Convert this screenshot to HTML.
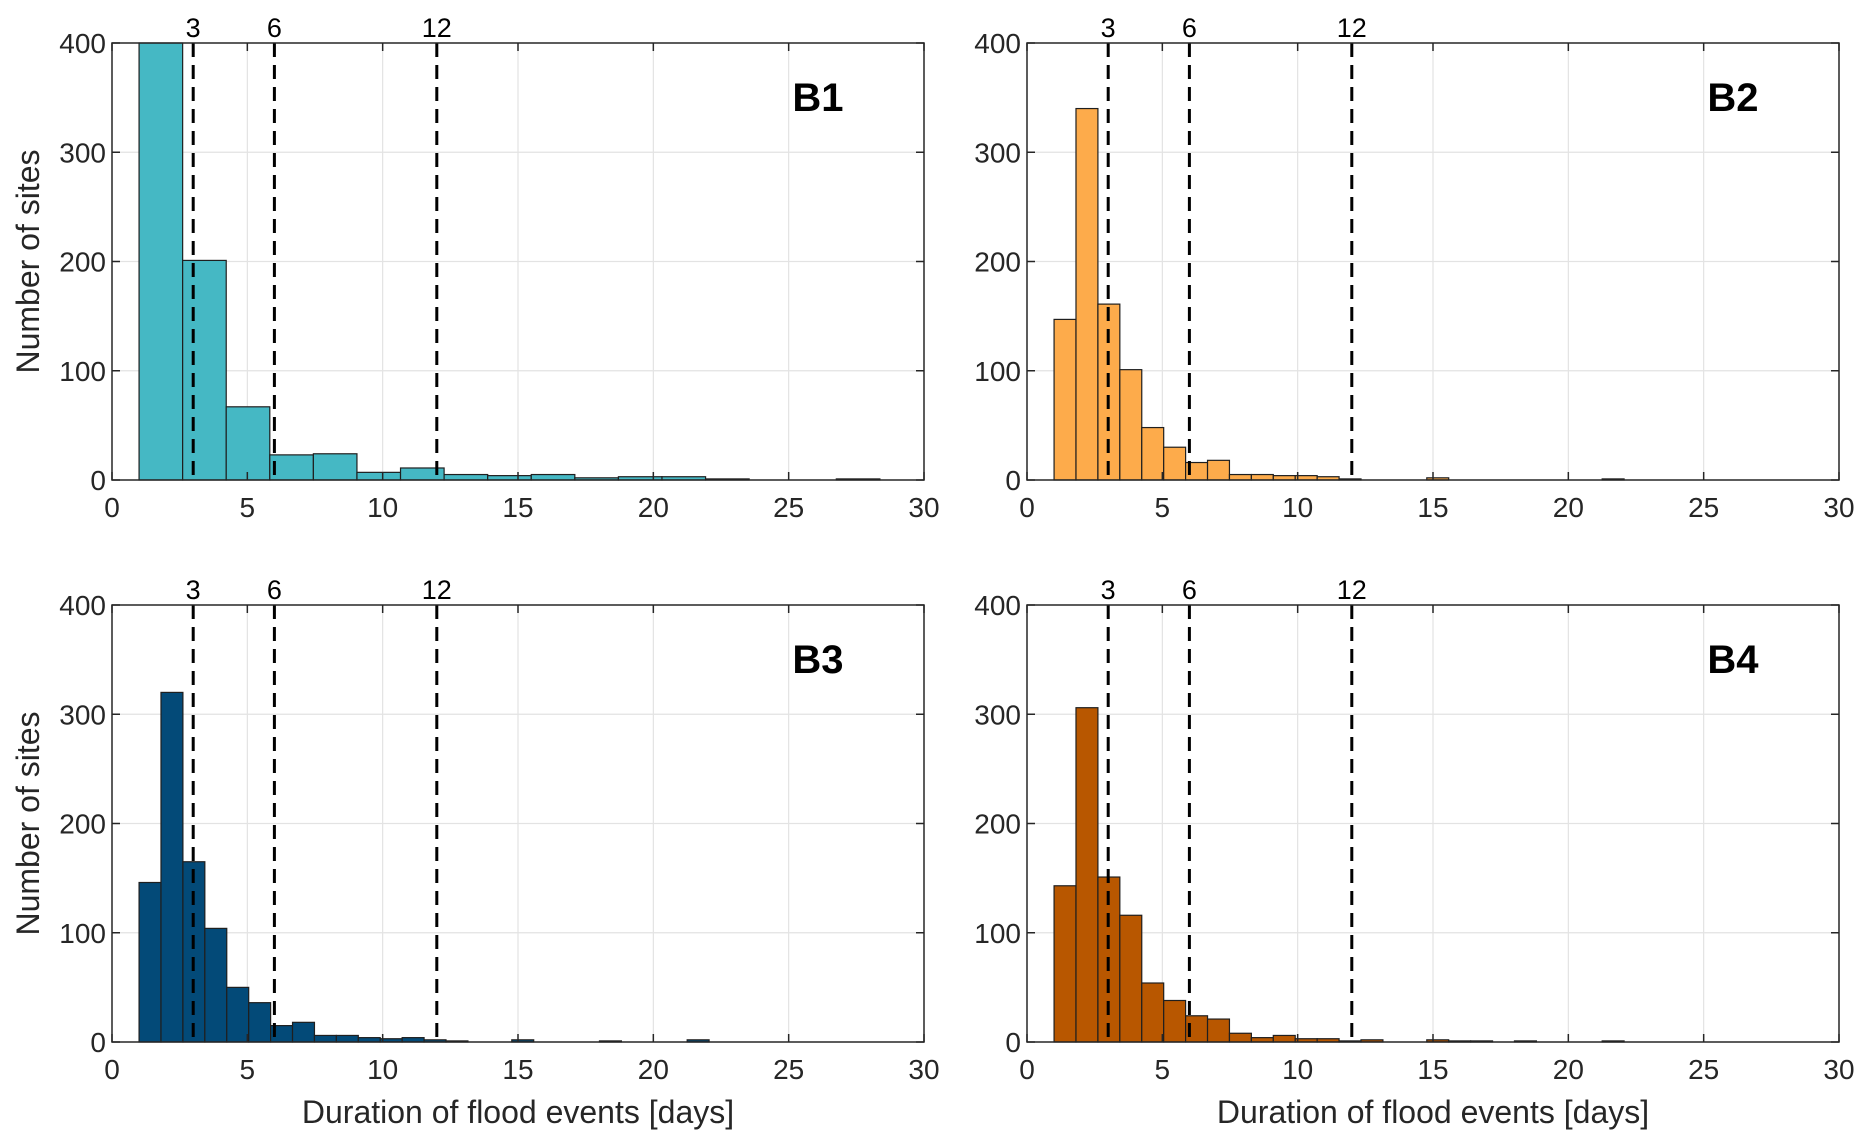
<!DOCTYPE html>
<html><head><meta charset="utf-8"><style>
html,body{margin:0;padding:0;background:#fff;}
svg{display:block;font-family:"Liberation Sans",Arial,sans-serif;}
</style></head><body>
<svg id="fig" width="1870" height="1147" viewBox="0 0 1870 1147"></svg>
<script>
const xTicks = [0,5,10,15,20,25,30];
const yTicks = [0,100,200,300,400];
const thresholds = [3,6,12];
const b1Start = 1, b1Width = 1.61;
const b1Values = [430,201,67,23,24,7,11,5,4,5,2,3,3,1,0,0,1];
const b2Start = 1, b2Width = 0.81;
const b2Values = [147,340,161,101,48,30,16,18,5,5,4,4,3,1,0,0,0,2,0,0,0,0,0,0,0,1];
const b3Values = [146,320,165,104,50,36,15,18,6,6,4,3,4,2,1,0,0,2,0,0,0,1,0,0,0,2];
const b4Values = [143,306,151,116,54,38,24,21,8,4,6,3,3,1,2,0,0,2,1,1,0,1,0,0,0,1];
const panelNames = ["B1","B2","B3","B4"];
const panelColors = ["#45b8c4","#fdab4b","#034a78","#b85700"];

const NS="http://www.w3.org/2000/svg";
const svg=document.getElementById('fig');
function mk(tag,attrs,parent){const e=document.createElementNS(NS,tag);for(const k in attrs)e.setAttribute(k,attrs[k]);(parent||svg).appendChild(e);return e;}

const panels=[
 {x0:112,x1:924,y0:43,y1:480,vals:b1Values,start:b1Start,w:b1Width,ylabel:true,xlabel:false},
 {x0:1027,x1:1839,y0:43,y1:480,vals:b2Values,start:b2Start,w:b2Width,ylabel:false,xlabel:false},
 {x0:112,x1:924,y0:605,y1:1042,vals:b3Values,start:b2Start,w:b2Width,ylabel:true,xlabel:true},
 {x0:1027,x1:1839,y0:605,y1:1042,vals:b4Values,start:b2Start,w:b2Width,ylabel:false,xlabel:true}
];

panels.forEach((p,i)=>{
 const g=mk('g',{});
 
 
 const X=v=>p.x0+(v-0)/(30-0)*(p.x1-p.x0);
 const Y=v=>p.y1-(Math.min(v,400))/400*(p.y1-p.y0);
 xTicks.forEach(t=>{ if(t>0&&t<30){const l=mk('line',{x1:X(t),x2:X(t),y1:p.y0,y2:p.y1,stroke:'#e3e3e3','stroke-width':1.2},g);
  }});
 yTicks.forEach(t=>{ if(t>0&&t<400){const l=mk('line',{x1:p.x0,x2:p.x1,y1:Y(t),y2:Y(t),stroke:'#e3e3e3','stroke-width':1.2},g);
  }});
 p.vals.forEach((v,k)=>{ if(v<=0) return;
  const a=p.start+k*p.w, b=a+p.w;
  const r=mk('rect',{x:X(a),y:Y(v),width:X(b)-X(a),height:Y(0)-Y(v),fill:panelColors[i],stroke:'#1f1f1f','stroke-width':1.2},g);
  
  
 });
 thresholds.forEach(t=>{
  const l=mk('line',{x1:X(t),x2:X(t),y1:p.y0,y2:p.y1,stroke:'#000','stroke-width':3,'stroke-dasharray':'14,8'},g);
  
  const tx=mk('text',{x:X(t),y:p.y0-6,'text-anchor':'middle','font-size':27,fill:'#000'},g);
  tx.textContent=t;
  
 });
 const bx=mk('rect',{x:p.x0,y:p.y0,width:p.x1-p.x0,height:p.y1-p.y0,fill:'none',stroke:'#262626','stroke-width':1.5},g);
 
 xTicks.forEach(t=>{
  mk('line',{x1:X(t),x2:X(t),y1:p.y1,y2:p.y1-8,stroke:'#262626','stroke-width':1.5},g);
  mk('line',{x1:X(t),x2:X(t),y1:p.y0,y2:p.y0+8,stroke:'#262626','stroke-width':1.5},g);
  const tx=mk('text',{x:X(t),y:p.y1+37,'text-anchor':'middle','font-size':28,fill:'#262626'},g);
  tx.textContent=t;
  
 });
 yTicks.forEach(t=>{
  mk('line',{x1:p.x0,x2:p.x0+8,y1:Y(t),y2:Y(t),stroke:'#262626','stroke-width':1.5},g);
  mk('line',{x1:p.x1,x2:p.x1-8,y1:Y(t),y2:Y(t),stroke:'#262626','stroke-width':1.5},g);
  const tx=mk('text',{x:p.x0-6,y:Y(t)+10,'text-anchor':'end','font-size':28,fill:'#262626'},g);
  tx.textContent=t;
  
 });
 const pl=mk('text',{x:p.x0+706,y:p.y0+68,'text-anchor':'middle','font-size':40,'font-weight':'bold',fill:'#000'},g);
 pl.textContent=panelNames[i];
 
 if(p.ylabel){
  const yl=mk('text',{x:0,y:0,'text-anchor':'middle','font-size':32,fill:'#262626',transform:`translate(39,${(p.y0+p.y1)/2}) rotate(-90)`},g);
  yl.textContent='Number of sites';
  
 }
 if(p.xlabel){
  const xl=mk('text',{x:(p.x0+p.x1)/2,y:p.y1+81,'text-anchor':'middle','font-size':32,fill:'#262626'},g);
  xl.textContent='Duration of flood events [days]';
  
 }
});
</script>
</body></html>
